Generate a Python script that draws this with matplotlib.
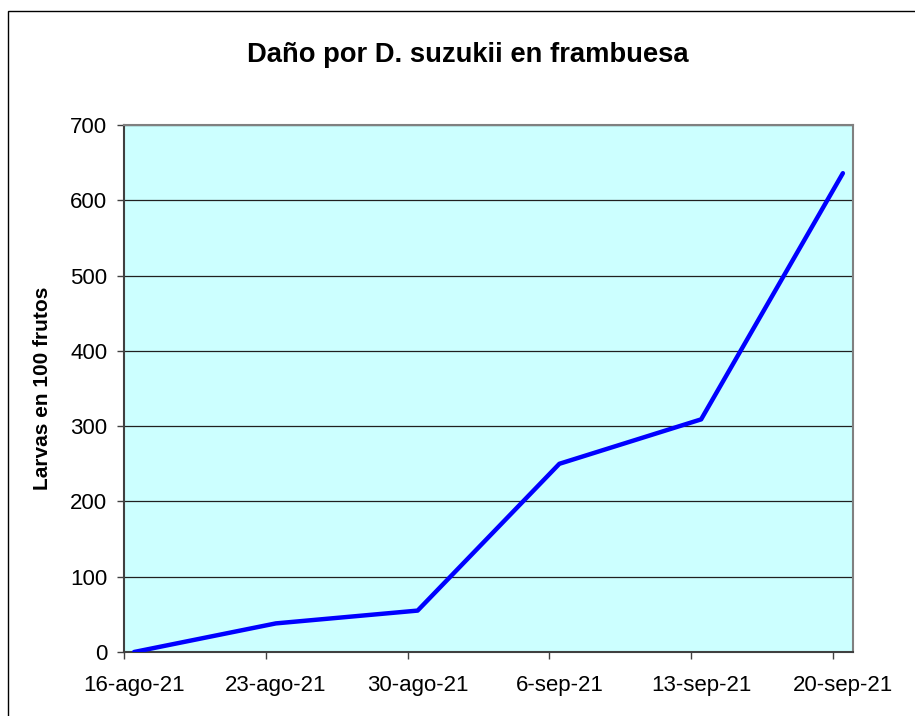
import numpy as np
import pandas as pd
import matplotlib
matplotlib.use('Agg')
import matplotlib.pyplot as plt
from matplotlib.patches import Rectangle

plt.rcParams['font.family'] = ['Liberation Sans', 'DejaVu Sans']

# DATA
fechas = ['2021-08-16', '2021-08-23', '2021-08-30', '2021-09-06', '2021-09-13', '2021-09-20']
larvas = [0, 38, 55, 250, 309, 636]
tick_labels = ['16-ago-21', '23-ago-21', '30-ago-21', '6-sep-21', '13-sep-21', '20-sep-21']
y_ticks = [0, 100, 200, 300, 400, 500, 600, 700]

fechas = pd.to_datetime(fechas)
inicio = fechas[0]
dias = np.array([(f - inicio).days for f in fechas])

fig = plt.figure(figsize=(9.15, 7.16), dpi=100)
fig.patch.set_facecolor('white')
ax = fig.add_axes([124 / 915, 1 - 652 / 716, 729 / 915, 527 / 716])
ax.set_facecolor('#CCFFFF')

ax.plot(dias, larvas, color='#0000FF', linewidth=3.2, solid_capstyle='round', zorder=3)

# date axis: one slot per day, labels centred on the day
ax.set_xlim(-0.5, dias[-1] + 0.5)
ax.set_xticks(dias - 0.5)
ax.set_xticklabels([])
ax.set_xticks(dias, minor=True)
ax.set_xticklabels(tick_labels, minor=True)
ax.tick_params(axis='x', which='major', direction='out', length=5, width=1, color='#404040')
ax.tick_params(axis='x', which='minor', length=0, pad=16.5, labelsize=16)

ax.set_ylim(0, 700)
ax.set_yticks(y_ticks)
ax.tick_params(axis='y', direction='out', length=5, width=1, color='#404040', pad=7, labelsize=16)
ax.yaxis.grid(True, color='#202020', linewidth=0.9)
ax.set_axisbelow(True)

for side in ['top', 'right']:
    ax.spines[side].set_color('#808080')
    ax.spines[side].set_linewidth(1.5)
for side in ['left', 'bottom']:
    ax.spines[side].set_color('#404040')
    ax.spines[side].set_linewidth(1.5)

ax.set_ylabel('Larvas en 100 frutos', fontsize=15, fontweight='bold')
ax.yaxis.set_label_coords(-0.099, 0.5)

fig.text(468 / 915, 1 - 55 / 716, 'Daño por D. suzukii en frambuesa',
         fontsize=19.7, fontweight='bold', ha='center', va='center')

# outer chart frame
fig.add_artist(Rectangle((8 / 915, -0.05), 1.1, 1 - 11 / 716 + 0.05,
                         transform=fig.transFigure, fill=False, lw=1, ec='black'))

fig.savefig('out.png', dpi=100)
